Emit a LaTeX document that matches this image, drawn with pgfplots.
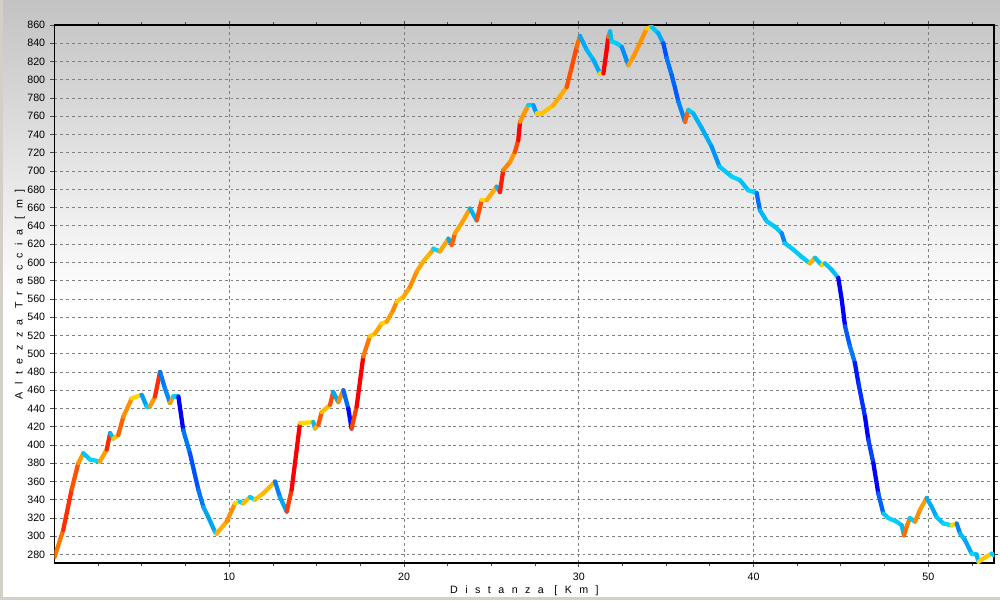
\documentclass[border=0pt]{standalone}
\usepackage{pgfplots}
\pgfplotsset{compat=1.18}
\usepackage{pgfplotstable}
\usepackage{fontspec}
\setmainfont{Liberation Sans}
\newfontfamily\spaced[LetterSpace=70]{Liberation Sans}
\definecolor{bgtop}{RGB}{195,195,195}
\definecolor{frame}{RGB}{212,208,200}

\pgfplotstableread{
km m s
0.0 277 6.0
0.5 307 9.2
0.98 351 7.6
1.36 380 3.8
1.65 391 -1.8
2.03 384 -0.4
2.6 382 3.3
2.99 395 9.5
3.18 413 -3.2
3.37 407 1.4
3.65 411 6.9
3.94 431 4.2
4.42 451 0.7
4.99 455 -4.5
5.28 442 -1
5.46 442 3.8
5.75 453 9.3
6.04 480 -6.4
6.32 462 -5.5
6.61 446 3.7
6.8 453 -1
7.09 453 -13.2
7.37 416 -6.6
7.75 391 -8.3
8.23 351 -6.6
8.52 332 -3.9
8.8 321 -4.2
9.18 305 -2
9.28 303 2.3
9.85 316 4.2
10.33 336 0.7
10.6 338 -1
10.8 336 1.8
11.19 343 -1.1
11.47 340 1.5
11.95 347 1.9
12.62 360 -6.1
12.9 343 -4.1
13.29 327 8.6
13.57 351 15.2
14.05 424 0.5
14.81 425 -3
14.91 418 2.1
15.1 422 7.4
15.29 436 1.7
15.77 444 7.8
15.95 458 -3.8
16.24 447 4.5
16.53 460 -7.1
16.81 440 -11.6
17.0 418 8.3
17.29 442 14.5
17.67 497 5.8
18.05 519 1
18.34 522 2.9
18.72 533 0.7
19.01 535 3.4
19.39 548 4.7
19.58 557 1.3
19.96 562 2.9
20.34 573 4.4
20.73 590 3
21.1 601 2.2
21.59 612 3.3
21.68 615 -0.8
22.06 612 2.9
22.54 626 -3.7
22.73 619 6.8
22.92 632 2.9
23.3 643 3.3
23.78 659 -3.4
24.16 646 7.6
24.45 668 0.5
24.73 668 2.6
25.3 683 -3.2
25.49 677 10
25.68 701 5
26.07 710 3.9
26.35 721 8
26.54 734 14
26.64 754 3.9
26.92 765 3.7
27.11 772 -1
27.4 772 -4.7
27.59 763 1
27.88 763 1.4
28.54 772 2.6
29.12 787 2.6
29.31 792 7.6
29.6 814 7.9
29.88 836 6.3
30.07 848 -3.9
30.45 833 -2.9
30.83 822 -3.8
31.22 807 1
31.41 807 13.7
31.6 833 15.6
31.69 847 6
31.79 853 -3
31.88 842 -0.7
32.17 840 -1.4
32.46 836 -5.3
32.84 816 3.2
33.12 825 3.9
33.5 840 4.1
33.89 856 0.7
34.17 858 -1.8
34.55 851 -3.8
34.84 840 -8.4
35.03 824 -6.6
35.32 805 -7.4
35.51 791 -7.9
35.7 776 -5.8
36.08 754 6.8
36.27 767 -1.4
36.56 763 -3.3
37.04 747 -3.6
37.6 727 -4.9
38.05 705 -1.6
38.75 694 -0.8
39.23 690 -2.3
39.7 679 -0.6
40.18 676 -7
40.37 657 -3.1
40.76 645 -1.3
41.23 639 -1.8
41.61 632 -5.8
41.8 621 -1.5
42.28 614 -1.7
42.76 606 -1.5
43.23 599 2.1
43.52 605 -2.1
43.9 597 1
44.09 599 -1.8
44.47 592 -2.4
44.85 583 -12
45.05 559 -15
45.24 530 -7.9
45.52 508 -6.4
45.8 490 -11
46.0 468 -9.7
46.38 431 -13
46.57 406 -9
46.86 380 -11.8
47.14 347 -7.6
47.43 325 -1.8
47.71 320 -0.8
48.19 316 -1.4
48.48 312 -3
48.61 301 6.3
48.77 311 5
48.95 320 -1.4
49.24 316 4.5
49.53 329 3.4
49.91 342 -3.4
50.2 332 -3.9
50.48 321 -1.8
50.86 314 -0.4
51.34 312 0.7
51.63 314 -5.8
51.82 303 -2.5
52.1 296 -3.9
52.48 281 -0.3
52.77 280 -3
52.87 272 1.2
53.35 278 1.1
53.63 281 -1.3
53.78 279 -1.3
}\profile

\begin{document}
\begin{tikzpicture}
% background
\fill[white] (-40.875pt,-27.525pt) rectangle (709.125pt,422.475pt);
\shade[top color=bgtop, bottom color=white]
  (-40.875pt,197.475pt) rectangle (709.125pt,422.475pt);
% window frame
\fill[frame] (-40.875pt,-27.525pt) rectangle (-38.6pt,422.475pt);
\fill[frame] (-40.875pt,-27.525pt) rectangle (709.125pt,-25.3pt);
\begin{axis}[
  at={(0pt,0pt)}, anchor=south west,
  scale only axis, width=704.85pt, height=403.7pt,
  xmin=0, xmax=53.78, ymin=270.4, ymax=860,
  xtick={10,20,30,40,50},
  minor xtick={2.5,5,7.5,12.5,15,17.5,22.5,25,27.5,32.5,35,37.5,42.5,45,47.5,52.5},
  ytick={280,300,...,860},
  grid=major,
  major grid style={gray, line width=0.6pt, dash pattern=on 2.2pt off 2.2pt},
  tick align=outside,
  major tick length=3pt, minor tick length=2.2pt,
  tick style={black!70, line width=0.6pt},
  axis line style={black, line width=1.4pt},
  tick label style={font=\fontsize{8}{9.5}\selectfont},
  /pgf/number format/assume math mode=true,
  /pgf/number format/1000 sep={},
  yticklabel style={xshift=-0.5pt},
  xticklabel style={yshift=-1pt},
  xlabel={\spaced Distanza [Km]},
  ylabel={\spaced Altezza Traccia [m]},
  label style={font=\fontsize{8}{9.5}\selectfont},
  xlabel style={at={(axis description cs:0.5,0)}, anchor=center, yshift=-20.8pt},
  ylabel style={at={(axis description cs:0,0.5)}, anchor=center, yshift=26pt},
  colormap={prof}{rgb255(0cm)=(0,0,255) rgb255(5cm)=(0,110,255) rgb255(9cm)=(0,185,245) rgb255(11.99cm)=(0,220,255) rgb255(12.01cm)=(255,228,0) rgb255(14cm)=(255,180,0) rgb255(18cm)=(255,115,0) rgb255(22cm)=(255,30,0) rgb255(24cm)=(255,0,0)},
  point meta min=-12, point meta max=12,
  clip=true,
]
\addplot[mesh, shader=flat corner, point meta=\thisrow{s}, line width=3.2pt, line cap=round, line join=round]
  table[x=km, y=m] {\profile};
\end{axis}
\end{tikzpicture}
\end{document}
